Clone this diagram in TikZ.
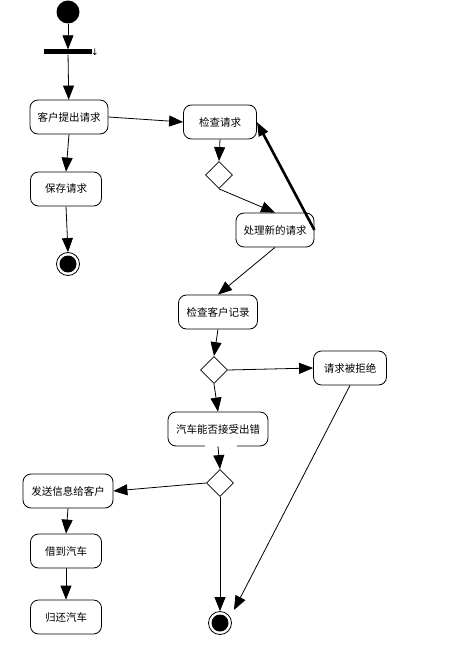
\documentclass[tikz,border=0pt]{standalone}
\usepackage{fontspec}
\setmainfont{Noto Sans CJK SC}
\newfontfamily\symfont{DejaVu Sans}
\usetikzlibrary{arrows.meta,shapes.geometric}
\begin{document}
\begin{tikzpicture}[x=1pt,y=-1pt,
  act/.style={draw,rounded corners=8pt,line width=0.8pt,minimum height=34pt,inner sep=2pt,font=\fontsize{10.5}{12}\selectfont},
  dec/.style={draw,diamond,line width=0.8pt,minimum width=27pt,minimum height=27pt,inner sep=0pt},
  flow/.style={line width=0.8pt,-{Triangle[length=14pt,width=11pt]}},
  flowthick/.style={line width=2.6pt,-{Triangle[length=14pt,width=10pt]}},
  startnode/.style={circle,fill=black,minimum size=23pt,inner sep=0pt},
  endnode/.style={circle,draw,line width=0.8pt,fill=white,minimum size=23pt,inner sep=0pt}]
\useasboundingbox (0,0) rectangle (463,647);
\node[startnode] (s) at (68,12) {};
\node[fill=black,minimum width=48pt,minimum height=5pt,inner sep=0pt] (bar) at (68,52) {};
\node[inner sep=0pt,font=\symfont\fontsize{9}{9}\selectfont] (tick) at (95,52.5) {↓};
\node[act,minimum width=78pt] (a1) at (69,117) {客户提出请求};
\node[act,minimum width=71pt] (a2) at (66,189) {保存请求};
\node[endnode] (e1) at (68,264) {};
\fill (e1.center) circle (8.5pt);
\node[act,minimum width=73pt] (b1) at (220,122) {检查请求};
\node[dec] (d1) at (219,175) {};
\node[act,minimum width=78pt] (b2) at (275,230) {处理新的请求};
\node[act,minimum width=79pt] (c1) at (218,312) {检查客户记录};
\node[dec] (d2) at (214,370) {};
\node[act,minimum width=73pt] (r1) at (350,368) {请求被拒绝};
\node[act,minimum width=100pt] (c2) at (218,429) {汽车能否接受出错};
\node[dec] (d3) at (220,483) {};
\node[act,minimum width=90pt] (f1) at (68,491) {发送信息给客户};
\node[act,minimum width=71pt] (f2) at (66,551) {借到汽车};
\node[act,minimum width=71pt] (f3) at (66,617) {归还汽车};
\node[endnode] (e2) at (220,623) {};
\fill (e2.center) circle (8.5pt);
% gap in bottom border
\draw[white,line width=2pt] (205,446) -- (237,446);
\draw[flow] (s) -- (bar);
\draw[flow] (bar) -- (a1);
\draw[flow] (a1.east) -- (b1.west);
\draw[flow] (a1.south) -- (a2.north);
\draw[flow] (a2.south) -- (e1.north);
\draw[flow] (b1.south) -- (d1.north);
\draw[flow] (d1.south) -- (b2.north);
\draw[flowthick] (b2.east) -- (b1.east);
\draw[flow] (b2.south) -- (c1.north);
\draw[flow] (c1.south) -- (d2.north);
\draw[flow] (d2.east) -- (r1.west);
\draw[flow] (d2.south) -- (c2.north);
\draw[flow] (c2.south) -- (d3.north);
\draw[flow] (d3.west) -- (f1.east);
\draw[flow] (f1.south) -- (f2.north);
\draw[flow] (f2.south) -- (f3.north);
\draw[flow] (d3.south) -- (e2.north);
\draw[flow,shorten >=8pt] (r1.south) -- (e2.30);
\end{tikzpicture}
\end{document}
